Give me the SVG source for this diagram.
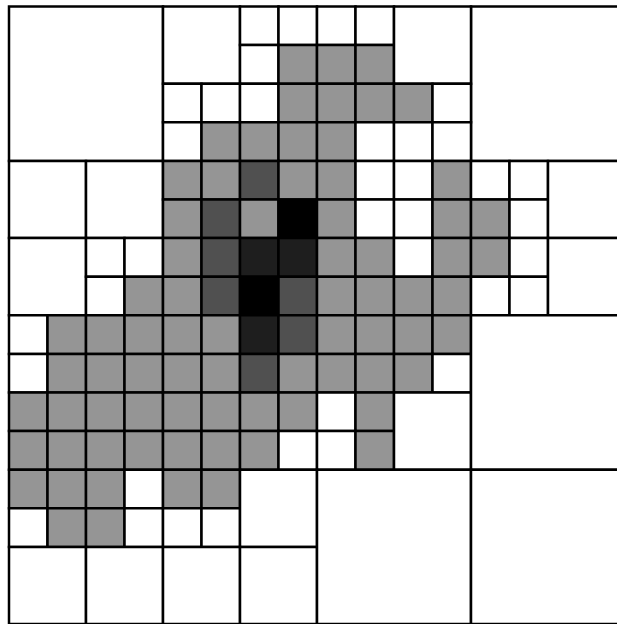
<svg xmlns="http://www.w3.org/2000/svg" width="617" height="624" viewBox="0 0 617 624">
<style>
.c rect{stroke:#000;stroke-width:2.5;vector-effect:non-scaling-stroke}
.w{fill:#fff}.g{fill:#959595}.m{fill:#505050}.d{fill:#1e1e1e}.k{fill:#000}
</style>
<rect x="0" y="0" width="617" height="624" fill="#fff"/>
<g class="c" transform="translate(9,6.5) scale(38.5,38.6)">
<g id="q00"><rect class="w" x="0" y="0" width="4" height="4"/></g>
<g id="q30"><rect class="w" x="12" y="0" width="4" height="4"/></g>
<g id="q10">
<rect class="w" x="4" y="0" width="2" height="2"/>
<rect class="w" x="6" y="0" width="1" height="1"/><rect class="w" x="7" y="0" width="1" height="1"/>
<rect class="w" x="6" y="1" width="1" height="1"/><rect class="g" x="7" y="1" width="1" height="1"/>
<rect class="w" x="4" y="2" width="1" height="1"/><rect class="w" x="5" y="2" width="1" height="1"/>
<rect class="w" x="4" y="3" width="1" height="1"/><rect class="g" x="5" y="3" width="1" height="1"/>
<rect class="w" x="6" y="2" width="1" height="1"/><rect class="g" x="7" y="2" width="1" height="1"/>
<rect class="g" x="6" y="3" width="1" height="1"/><rect class="g" x="7" y="3" width="1" height="1"/>
</g>
<g id="q20">
<rect class="w" x="8" y="0" width="1" height="1"/><rect class="w" x="9" y="0" width="1" height="1"/>
<rect class="g" x="8" y="1" width="1" height="1"/><rect class="g" x="9" y="1" width="1" height="1"/>
<rect class="w" x="10" y="0" width="2" height="2"/>
<rect class="g" x="8" y="2" width="1" height="1"/><rect class="g" x="9" y="2" width="1" height="1"/>
<rect class="g" x="8" y="3" width="1" height="1"/><rect class="w" x="9" y="3" width="1" height="1"/>
<rect class="g" x="10" y="2" width="1" height="1"/><rect class="w" x="11" y="2" width="1" height="1"/>
<rect class="w" x="10" y="3" width="1" height="1"/><rect class="w" x="11" y="3" width="1" height="1"/>
</g>
<g id="q01">
<rect class="w" x="0" y="4" width="2" height="2"/>
<rect class="w" x="2" y="4" width="2" height="2"/>
<rect class="w" x="0" y="6" width="2" height="2"/>
<rect class="w" x="2" y="6" width="1" height="1"/><rect class="w" x="3" y="6" width="1" height="1"/>
<rect class="w" x="2" y="7" width="1" height="1"/><rect class="g" x="3" y="7" width="1" height="1"/>
</g>
<g id="q11">
<rect class="g" x="4" y="4" width="1" height="1"/><rect class="g" x="5" y="4" width="1" height="1"/>
<rect class="m" x="6" y="4" width="1" height="1"/><rect class="g" x="7" y="4" width="1" height="1"/>
<rect class="g" x="4" y="5" width="1" height="1"/><rect class="m" x="5" y="5" width="1" height="1"/>
<rect class="g" x="6" y="5" width="1" height="1"/><rect class="k" x="7" y="5" width="1" height="1"/>
<rect class="g" x="4" y="6" width="1" height="1"/><rect class="m" x="5" y="6" width="1" height="1"/>
<rect class="d" x="6" y="6" width="1" height="1"/><rect class="d" x="7" y="6" width="1" height="1"/>
<rect class="g" x="4" y="7" width="1" height="1"/><rect class="m" x="5" y="7" width="1" height="1"/>
<rect class="k" x="6" y="7" width="1" height="1"/><rect class="m" x="7" y="7" width="1" height="1"/>
</g>
<g id="q21">
<rect class="g" x="8" y="4" width="1" height="1"/><rect class="w" x="9" y="4" width="1" height="1"/>
<rect class="w" x="10" y="4" width="1" height="1"/><rect class="g" x="11" y="4" width="1" height="1"/>
<rect class="g" x="8" y="5" width="1" height="1"/><rect class="w" x="9" y="5" width="1" height="1"/>
<rect class="w" x="10" y="5" width="1" height="1"/><rect class="g" x="11" y="5" width="1" height="1"/>
<rect class="g" x="8" y="6" width="1" height="1"/><rect class="g" x="9" y="6" width="1" height="1"/>
<rect class="w" x="10" y="6" width="1" height="1"/><rect class="g" x="11" y="6" width="1" height="1"/>
<rect class="g" x="8" y="7" width="1" height="1"/><rect class="g" x="9" y="7" width="1" height="1"/>
<rect class="g" x="10" y="7" width="1" height="1"/><rect class="g" x="11" y="7" width="1" height="1"/>
</g>
<g id="q31">
<rect class="w" x="12" y="4" width="1" height="1"/><rect class="w" x="13" y="4" width="1" height="1"/>
<rect class="g" x="12" y="5" width="1" height="1"/><rect class="w" x="13" y="5" width="1" height="1"/>
<rect class="w" x="14" y="4" width="2" height="2"/>
<rect class="g" x="12" y="6" width="1" height="1"/><rect class="w" x="13" y="6" width="1" height="1"/>
<rect class="w" x="12" y="7" width="1" height="1"/><rect class="w" x="13" y="7" width="1" height="1"/>
<rect class="w" x="14" y="6" width="2" height="2"/>
</g>
<g id="q02">
<rect class="w" x="0" y="8" width="1" height="1"/><rect class="g" x="1" y="8" width="1" height="1"/>
<rect class="g" x="2" y="8" width="1" height="1"/><rect class="g" x="3" y="8" width="1" height="1"/>
<rect class="w" x="0" y="9" width="1" height="1"/><rect class="g" x="1" y="9" width="1" height="1"/>
<rect class="g" x="2" y="9" width="1" height="1"/><rect class="g" x="3" y="9" width="1" height="1"/>
<rect class="g" x="0" y="10" width="1" height="1"/><rect class="g" x="1" y="10" width="1" height="1"/>
<rect class="g" x="2" y="10" width="1" height="1"/><rect class="g" x="3" y="10" width="1" height="1"/>
<rect class="g" x="0" y="11" width="1" height="1"/><rect class="g" x="1" y="11" width="1" height="1"/>
<rect class="g" x="2" y="11" width="1" height="1"/><rect class="g" x="3" y="11" width="1" height="1"/>
</g>
<g id="q12">
<rect class="g" x="4" y="8" width="1" height="1"/><rect class="g" x="5" y="8" width="1" height="1"/>
<rect class="d" x="6" y="8" width="1" height="1"/><rect class="m" x="7" y="8" width="1" height="1"/>
<rect class="g" x="4" y="9" width="1" height="1"/><rect class="g" x="5" y="9" width="1" height="1"/>
<rect class="m" x="6" y="9" width="1" height="1"/><rect class="g" x="7" y="9" width="1" height="1"/>
<rect class="g" x="4" y="10" width="1" height="1"/><rect class="g" x="5" y="10" width="1" height="1"/>
<rect class="g" x="6" y="10" width="1" height="1"/><rect class="g" x="7" y="10" width="1" height="1"/>
<rect class="g" x="4" y="11" width="1" height="1"/><rect class="g" x="5" y="11" width="1" height="1"/>
<rect class="g" x="6" y="11" width="1" height="1"/><rect class="w" x="7" y="11" width="1" height="1"/>
</g>
<g id="q22">
<rect class="g" x="8" y="8" width="1" height="1"/><rect class="g" x="9" y="8" width="1" height="1"/>
<rect class="g" x="10" y="8" width="1" height="1"/><rect class="g" x="11" y="8" width="1" height="1"/>
<rect class="g" x="8" y="9" width="1" height="1"/><rect class="g" x="9" y="9" width="1" height="1"/>
<rect class="g" x="10" y="9" width="1" height="1"/><rect class="w" x="11" y="9" width="1" height="1"/>
<rect class="w" x="8" y="10" width="1" height="1"/><rect class="g" x="9" y="10" width="1" height="1"/>
<rect class="w" x="8" y="11" width="1" height="1"/><rect class="g" x="9" y="11" width="1" height="1"/>
<rect class="w" x="10" y="10" width="2" height="2"/>
</g>
<g id="q32"><rect class="w" x="12" y="8" width="4" height="4"/></g>
<g id="q03">
<rect class="g" x="0" y="12" width="1" height="1"/><rect class="g" x="1" y="12" width="1" height="1"/>
<rect class="w" x="0" y="13" width="1" height="1"/><rect class="g" x="1" y="13" width="1" height="1"/>
<rect class="g" x="2" y="12" width="1" height="1"/><rect class="w" x="3" y="12" width="1" height="1"/>
<rect class="g" x="2" y="13" width="1" height="1"/><rect class="w" x="3" y="13" width="1" height="1"/>
<rect class="w" x="0" y="14" width="2" height="2"/>
<rect class="w" x="2" y="14" width="2" height="2"/>
</g>
<g id="q13">
<rect class="g" x="4" y="12" width="1" height="1"/><rect class="g" x="5" y="12" width="1" height="1"/>
<rect class="w" x="4" y="13" width="1" height="1"/><rect class="w" x="5" y="13" width="1" height="1"/>
<rect class="w" x="6" y="12" width="2" height="2"/>
<rect class="w" x="4" y="14" width="2" height="2"/>
<rect class="w" x="6" y="14" width="2" height="2"/>
</g>
<g id="q23"><rect class="w" x="8" y="12" width="4" height="4"/></g>
<g id="q33"><rect class="w" x="12" y="12" width="4" height="4"/></g>
</g>
</svg>
